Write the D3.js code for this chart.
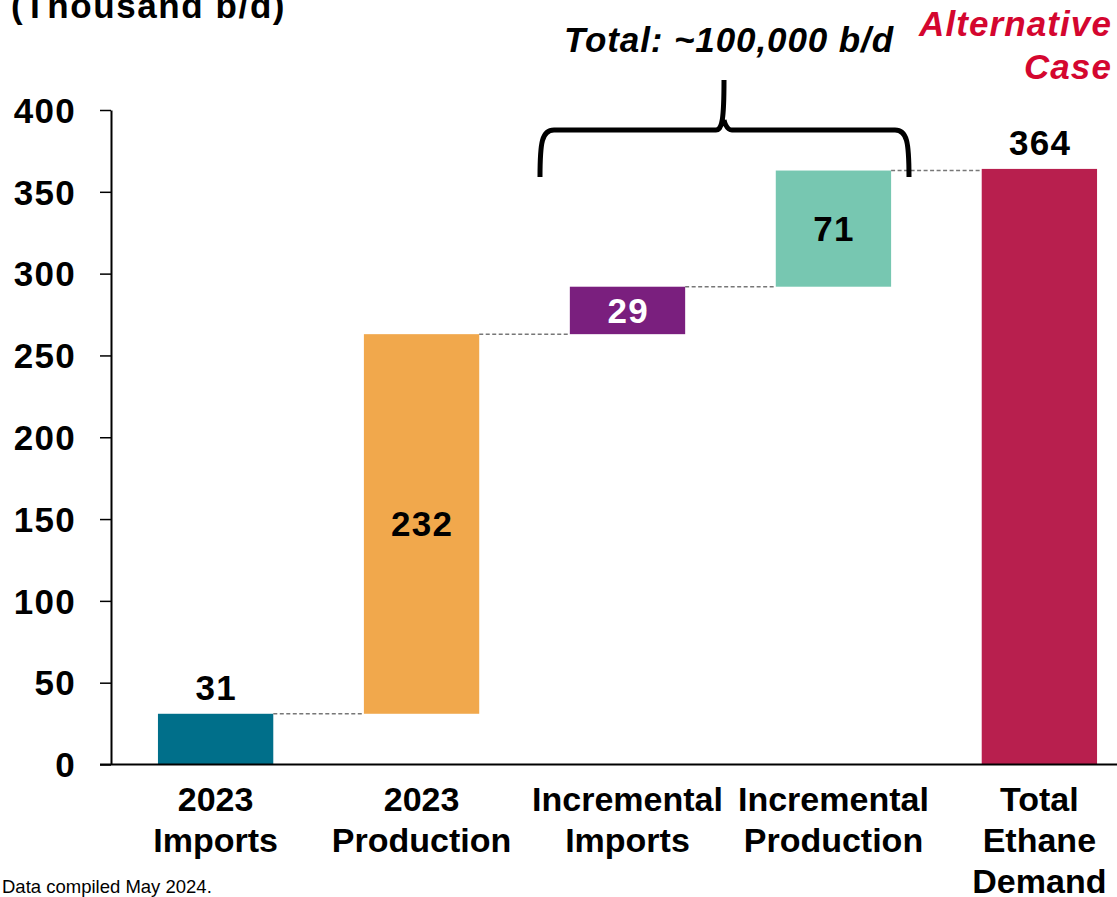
<!DOCTYPE html>
<html>
<head>
<meta charset="utf-8">
<script src="https://cdn.jsdelivr.net/npm/d3@7"></script>
<style>
  html, body { margin: 0; padding: 0; background: #fff; }
  svg { display: block; }
  text { font-family: "Liberation Sans", Arial, Helvetica, sans-serif; }
</style>
</head>
<body>
<svg id="chart" width="1117" height="897"></svg>
<script>
// Ethane supply build-up, thousand barrels per day
const categories = ["2023 Imports", "2023 Production", "Incremental Imports", "Incremental Production", "Total Ethane Demand"];
const categoryLines = [["2023", "Imports"], ["2023", "Production"], ["Incremental", "Imports"], ["Incremental", "Production"], ["Total", "Ethane", "Demand"]];
const values = [31, 232, 29, 71, 364];
const isTotal = [false, false, false, false, true];
const barColors = ["#006f8a", "#f1a84c", "#7a1f7e", "#77c7b1", "#b81f4e"];
const labelColors = ["#000", "#000", "#fff", "#000", "#000"];
const labelInside = [false, true, true, true, false];
const yTicks = [0, 50, 100, 150, 200, 250, 300, 350, 400];

// Waterfall bases: each step starts where the previous ended, totals start at zero
let running = 0;
const bars = values.map((v, i) => {
  const base = isTotal[i] ? 0 : running;
  const top = base + v;
  if (!isTotal[i]) running = top;
  return { cat: categories[i], lines: categoryLines[i], value: v, base, top,
           color: barColors[i], labelColor: labelColors[i], inside: labelInside[i] };
});

const svg = d3.select("#chart");
const FONT = 34;
const NUM_FONT = 35;
const NUM_SPACING = 1.3;

const x = d3.scaleBand()
  .domain(categories)
  .range([111, 1144])
  .paddingInner(0.44)
  .paddingOuter(0.228);

const y = d3.scaleLinear().domain([0, 400]).range([764.5, 110]);

// Bars
svg.append("g").selectAll("rect")
  .data(bars)
  .join("rect")
  .attr("x", d => x(d.cat))
  .attr("width", x.bandwidth())
  .attr("y", d => y(d.top))
  .attr("height", d => y(d.base) - y(d.top))
  .attr("fill", d => d.color);

// Dashed connectors between consecutive bars
svg.append("g").selectAll("line")
  .data(bars.slice(0, -1))
  .join("line")
  .attr("x1", d => x(d.cat) + x.bandwidth())
  .attr("x2", (d, i) => x(bars[i + 1].cat))
  .attr("y1", d => y(d.top))
  .attr("y2", d => y(d.top))
  .attr("stroke", "#777")
  .attr("stroke-width", 1.5)
  .attr("stroke-dasharray", "4,2.5");

// Y axis
const yAxis = svg.append("g")
  .attr("transform", "translate(111,0)")
  .call(d3.axisLeft(y).tickValues(yTicks).tickSize(11).tickSizeOuter(0).tickPadding(0));
yAxis.select(".domain").attr("stroke", "#000").attr("stroke-width", 2);
yAxis.selectAll(".tick line").attr("stroke", "#000").attr("stroke-width", 1.5);
yAxis.selectAll(".tick text")
  .attr("x", -35)
  .attr("dy", "0.35em")
  .attr("font-size", NUM_FONT)
  .attr("font-weight", "bold")
  .attr("letter-spacing", NUM_SPACING)
  .attr("fill", "#000");

// X axis baseline
svg.append("line")
  .attr("x1", 100).attr("x2", 1117)
  .attr("y1", y(0)).attr("y2", y(0))
  .attr("stroke", "#000").attr("stroke-width", 2);

// Category labels
const catText = svg.append("g").selectAll("text")
  .data(bars)
  .join("text")
  .attr("x", d => x(d.cat) + x.bandwidth() / 2)
  .attr("y", 811)
  .attr("text-anchor", "middle")
  .attr("font-size", FONT)
  .attr("font-weight", "bold")
  .attr("fill", "#000");
catText.selectAll("tspan")
  .data(d => d.lines.map(t => ({ t, cx: x(d.cat) + x.bandwidth() / 2 })))
  .join("tspan")
  .attr("x", d => d.cx)
  .attr("dy", (d, i) => i === 0 ? 0 : 41)
  .text(d => d.t);

// Value labels
svg.append("g").selectAll("text")
  .data(bars)
  .join("text")
  .attr("x", d => x(d.cat) + x.bandwidth() / 2 + NUM_SPACING / 2)
  .attr("y", d => d.inside ? (y(d.base) + y(d.top)) / 2 : y(d.top) - 14)
  .attr("dy", d => d.inside ? "0.35em" : 0)
  .attr("text-anchor", "middle")
  .attr("font-size", NUM_FONT)
  .attr("font-weight", "bold")
  .attr("letter-spacing", NUM_SPACING)
  .attr("fill", d => d.labelColor)
  .text(d => d.value);

// Axis unit (partly above the top edge)
svg.append("text")
  .attr("x", 11).attr("y", 18)
  .attr("font-size", 35)
  .attr("font-weight", "bold")
  .attr("letter-spacing", 1.6)
  .attr("fill", "#000")
  .text("(Thousand b/d)");

// Brace over the incremental steps
const bx0 = 540, bx1 = 909, bmid = 724, byBar = 130, byTop = 80, byEnd = 177;
const brace = d3.path();
brace.moveTo(bx0, byEnd);
brace.bezierCurveTo(bx0, byBar + 12, bx0 + 2, byBar, bx0 + 14, byBar);
brace.lineTo(bmid - 8, byBar);
brace.bezierCurveTo(bmid - 2, byBar, bmid, byBar - 10, bmid, byTop);
brace.moveTo(bmid, byBar - 10);
brace.bezierCurveTo(bmid, byBar - 10, bmid + 2, byBar, bmid + 8, byBar);
brace.lineTo(bx1 - 14, byBar);
brace.bezierCurveTo(bx1 - 2, byBar, bx1, byBar + 12, bx1, byEnd);
svg.append("path")
  .attr("d", brace.toString())
  .attr("fill", "none")
  .attr("stroke", "#000")
  .attr("stroke-width", 5);

svg.append("text")
  .attr("x", 729).attr("y", 52)
  .attr("text-anchor", "middle")
  .attr("font-size", 35)
  .attr("font-weight", "bold")
  .attr("font-style", "italic")
  .attr("letter-spacing", 0.9)
  .attr("fill", "#000")
  .text("Total: ~100,000 b/d");

// Scenario tag
const tag = svg.append("text")
  .attr("text-anchor", "end")
  .attr("font-size", 35)
  .attr("font-weight", "bold")
  .attr("font-style", "italic")
  .attr("letter-spacing", 1.1)
  .attr("fill", "#d4062f");
tag.append("tspan").attr("x", 1112).attr("y", 36).text("Alternative");
tag.append("tspan").attr("x", 1112).attr("y", 79).text("Case");

// Source note
svg.append("text")
  .attr("x", 2).attr("y", 893)
  .attr("font-size", 18.5)
  .attr("fill", "#000")
  .text("Data compiled May 2024.");
</script>
</body>
</html>
